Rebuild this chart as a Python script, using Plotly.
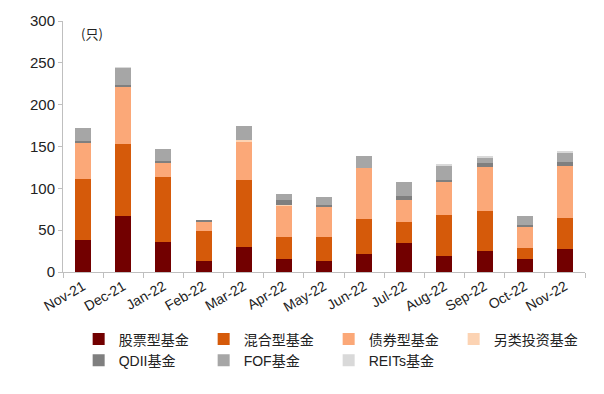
import plotly.graph_objects as go

months = ["Nov-21", "Dec-21", "Jan-22", "Feb-22", "Mar-22", "Apr-22", "May-22",
          "Jun-22", "Jul-22", "Aug-22", "Sep-22", "Oct-22", "Nov-22"]
stock = [38, 67, 36, 13, 30, 16, 13, 21, 35, 19, 25, 16, 28]
mixed = [73, 86, 78, 36, 80, 26, 29, 42, 25, 49, 48, 13, 36]
bond = [43, 68, 17, 11, 46, 37, 36, 61, 26, 39, 52, 25, 63]
alt = [0, 0, 0, 0, 2, 1, 0, 0, 0, 0, 0, 0, 0]
qdii = [3, 3, 2, 1, 0, 6, 2, 0, 5, 3, 5, 2, 4]
fof = [15, 20, 14, 0, 16, 7, 10, 15, 16, 17, 7, 11, 12]
reits = [0, 1, 0, 0, 0, 0, 0, 0, 0, 2, 2, 0, 2]

series = [
    ("股票型基金", stock, "#720000"),
    ("混合型基金", mixed, "#D55A0A"),
    ("债券型基金", bond, "#FBA878"),
    ("另类投资基金", alt, "#FCD3B3"),
    ("QDII基金", qdii, "#7F7F7F"),
    ("FOF基金", fof, "#A6A6A6"),
    ("REITs基金", reits, "#D9D9D9"),
]

fig = go.Figure()
for name, vals, color in series:
    fig.add_trace(go.Bar(x=months, y=vals, name=name, marker_color=color,
                         marker_line_width=0))

fig.update_layout(
    barmode="stack",
    bargap=0.6,
    width=596, height=386,
    margin=dict(l=55, r=19, t=13, b=122, autoexpand=False),
    paper_bgcolor="white", plot_bgcolor="white",
    font=dict(family="Liberation Sans, Arial, sans-serif", size=13, color="#222"),
    showlegend=True,
    legend=dict(orientation="h", x=0.03, y=-0.205, xanchor="left", yanchor="top",
                entrywidth=80, entrywidthmode="pixels",
                font=dict(size=14, family="Liberation Sans, Noto Sans CJK SC"),
                itemwidth=30, traceorder="normal", tracegroupgap=0),
    annotations=[dict(text="(只)", x=0.03, y=0.95, xref="paper", yref="paper",
                      xanchor="left", yanchor="middle", showarrow=False,
                      font=dict(size=13, family="Noto Sans CJK SC"))],
)
fig.update_xaxes(showline=True, linecolor="#BFBFBF", ticks="outside",
                 tickson="boundaries", ticklen=5, tickcolor="#BFBFBF",
                 tickangle=-30, tickfont=dict(size=14))
fig.update_yaxes(range=[0, 300], dtick=50, showgrid=False, showline=True,
                 linecolor="#BFBFBF", ticks="outside", ticklen=4,
                 tickcolor="#BFBFBF", tickfont=dict(size=15), zeroline=False)

fig.write_html("out.html")
